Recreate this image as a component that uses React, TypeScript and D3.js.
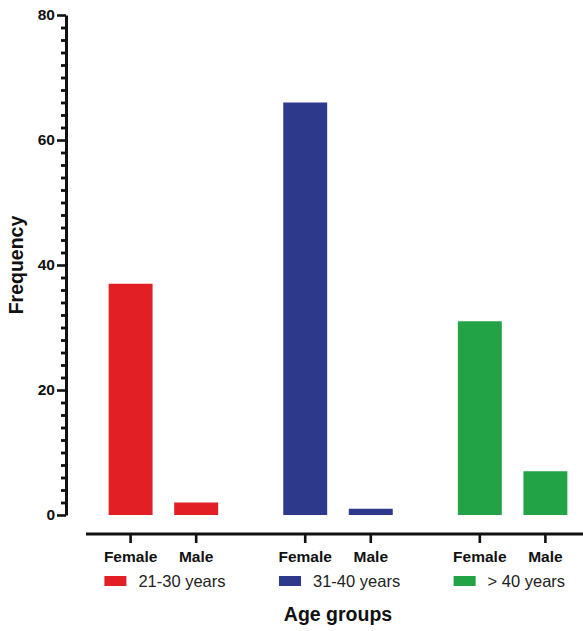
import React, { useEffect, useRef } from "react";
import * as d3 from "d3";

// age groups, sexes, and the frequency values
const groups = ["21-30 years", "31-40 years", "> 40 years"];
const sexes = ["Female", "Male"];
const femaleCounts = [37, 66, 31];
const maleCounts = [2, 1, 7];
const groupColors = ["#e31f26", "#2d3a8c", "#22a446"];
const majorTicks = [0, 20, 40, 60, 80];

const FONT = "'Liberation Sans', Arial, Helvetica, sans-serif";

export default function App() {
  const svgRef = useRef<SVGSVGElement | null>(null);

  useEffect(() => {
    if (!svgRef.current) return;
    const width = 583;
    const height = 631;

    const svg = d3.select(svgRef.current);
    svg.selectAll("*").remove();
    svg.attr("width", width).attr("height", height);

    const y = d3.scaleLinear().domain([0, 80]).range([515, 15]);

    const xGroup = d3
      .scaleBand<string>()
      .domain(groups)
      .range([87, 589])
      .paddingInner(0.125)
      .paddingOuter(0);

    const xSex = d3
      .scaleBand<string>()
      .domain(sexes)
      .range([0, xGroup.bandwidth()])
      .padding(0.33);

    const rows = groups.flatMap((g, i) => [
      { group: g, sex: "Female", value: femaleCounts[i], color: groupColors[i] },
      { group: g, sex: "Male", value: maleCounts[i], color: groupColors[i] },
    ]);

    // bars
    svg
      .append("g")
      .selectAll("rect")
      .data(rows)
      .join("rect")
      .attr("x", (d) => (xGroup(d.group) ?? 0) + (xSex(d.sex) ?? 0))
      .attr("y", (d) => y(d.value))
      .attr("width", xSex.bandwidth())
      .attr("height", (d) => y(0) - y(d.value))
      .attr("fill", (d) => d.color);

    // y axis: minor ticks
    const axisX = 66;
    svg
      .append("g")
      .attr("transform", `translate(${axisX},0)`)
      .call(
        d3
          .axisLeft(y)
          .tickValues(d3.range(0, 81, 2).filter((v) => v % 20 !== 0))
          .tickSize(5)
          .tickSizeOuter(0)
          .tickFormat(() => "")
      )
      .call((g) => g.select(".domain").remove())
      .call((g) => g.selectAll("line").attr("stroke", "#111").attr("stroke-width", 2.8));

    // y axis: major ticks + labels
    svg
      .append("g")
      .attr("transform", `translate(${axisX},0)`)
      .call(
        d3
          .axisLeft(y)
          .tickValues(majorTicks)
          .tickSize(9)
          .tickSizeOuter(0)
          .tickPadding(2)
      )
      .call((g) =>
        g.select(".domain").attr("stroke", "#111").attr("stroke-width", 3)
      )
      .call((g) => g.selectAll("line").attr("stroke", "#111").attr("stroke-width", 2.6))
      .call((g) =>
        g
          .selectAll("text")
          .attr("font-family", FONT)
          .attr("font-size", 15.5)
          .attr("font-weight", "bold")
          .attr("fill", "#111")
      );

    // x axis
    const axisY = 534;
    const xa = svg.append("g");
    xa.append("line")
      .attr("x1", xGroup.range()[0] - 1)
      .attr("x2", xGroup.range()[1])
      .attr("y1", axisY)
      .attr("y2", axisY)
      .attr("stroke", "#111")
      .attr("stroke-width", 3);

    const cx = (d: { group: string; sex: string }) =>
      (xGroup(d.group) ?? 0) + (xSex(d.sex) ?? 0) + xSex.bandwidth() / 2;

    xa.selectAll("line.tick")
      .data(rows)
      .join("line")
      .attr("class", "tick")
      .attr("x1", cx)
      .attr("x2", cx)
      .attr("y1", axisY)
      .attr("y2", axisY + 9)
      .attr("stroke", "#111")
      .attr("stroke-width", 2.6);

    xa.selectAll("text")
      .data(rows)
      .join("text")
      .attr("x", cx)
      .attr("y", 562)
      .attr("text-anchor", "middle")
      .attr("font-family", FONT)
      .attr("font-size", 15.5)
      .attr("font-weight", "bold")
      .attr("fill", "#111")
      .text((d) => d.sex);

    // legend
    const legend = svg
      .append("g")
      .selectAll("g")
      .data(groups)
      .join("g")
      .attr(
        "transform",
        (g) => `translate(${(xGroup(g) ?? 0) + xGroup.bandwidth() / 2 - 59},0)`
      );
    legend
      .append("rect")
      .attr("x", 0)
      .attr("y", 576)
      .attr("width", 22)
      .attr("height", 10)
      .attr("fill", (_, i) => groupColors[i]);
    legend
      .append("text")
      .attr("x", 34)
      .attr("y", 587)
      .attr("font-family", FONT)
      .attr("font-size", 16.5)
      .attr("fill", "#222")
      .text((g) => g);

    // axis titles
    svg
      .append("text")
      .attr("x", (xGroup(groups[1]) ?? 0) + xGroup.bandwidth() / 2)
      .attr("y", 621)
      .attr("text-anchor", "middle")
      .attr("font-family", FONT)
      .attr("font-size", 19.5)
      .attr("font-weight", "bold")
      .attr("fill", "#111")
      .text("Age groups");

    svg
      .append("text")
      .attr("transform", `translate(22.5,${(y(0) + y(80)) / 2}) rotate(-90)`)
      .attr("text-anchor", "middle")
      .attr("font-family", FONT)
      .attr("font-size", 19.5)
      .attr("font-weight", "bold")
      .attr("fill", "#111")
      .text("Frequency");
  }, []);

  return (
    <svg
      ref={svgRef}
      style={{ position: "absolute", left: 0, top: 0, display: "block" }}
    />
  );
}
